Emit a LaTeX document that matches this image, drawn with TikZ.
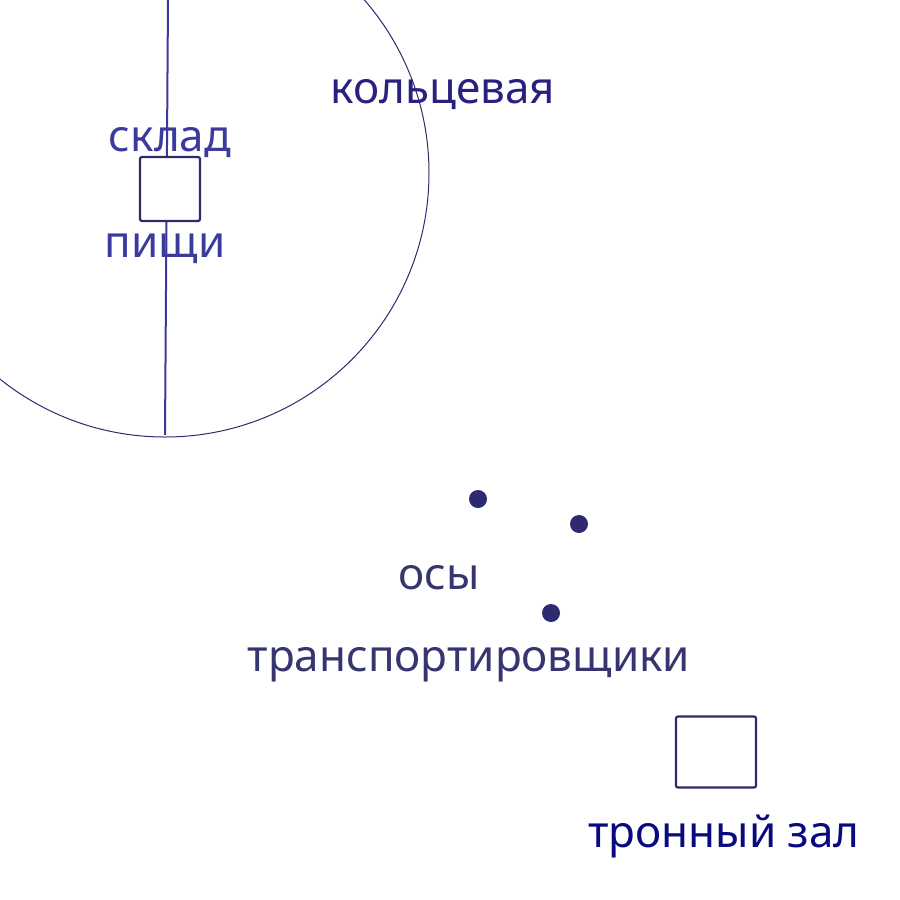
\documentclass[tikz,border=0pt]{standalone}
\usepackage{fontspec}
\setmainfont{Noto Sans}
\definecolor{lbl1}{HTML}{3B3B9E}
\definecolor{lbl2}{HTML}{2A2080}
\definecolor{lbl3}{HTML}{35356F}
\definecolor{lbl4}{HTML}{0A0A80}
\definecolor{ink}{HTML}{2E2A6E}
\definecolor{vline}{HTML}{3A3A9A}
\tikzset{
  lbl/.style={anchor=base, inner sep=0pt, font=\fontsize{44}{48}\selectfont},
  box/.style={draw=ink, line width=2.2pt, fill=white, rounded corners=2pt},
  dot/.style={circle, fill=ink, inner sep=0pt, minimum size=18pt}
}
\begin{document}
\begin{tikzpicture}[x=1pt,y=-1pt]
\useasboundingbox (0,0) rectangle (900,900);
\begin{scope}
\clip (0,0) rectangle (900,900);
\draw[ink, line width=1pt] (165,173) circle (264);
\end{scope}
\coordinate (vtop) at (168,0);
\coordinate (vbot) at (165,435);
\draw[vline, line width=2pt] (vtop) -- (vbot);
\node[box, minimum width=60pt, minimum height=64pt] (store) at (170,189) {};
\node[box, minimum width=80pt, minimum height=71pt] (throne) at (716,752) {};
\node[lbl, text=lbl1] (sklad) at (170,151) {склад};
\node[lbl, text=lbl1] (pishchi) at (165,257) {пищи};
\node[lbl, text=lbl2] (ring) at (443,103) {кольцевая};
\node[lbl, text=lbl3] (wasps) at (439,589) {осы};
\node[lbl, text=lbl3] (carriers) at (469,671) {транспортировщики};
\node[lbl, text=lbl4] (hall) at (724,847) {тронный зал};
\node[dot] (d1) at (478,499) {};
\node[dot] (d2) at (579,524) {};
\node[dot] (d3) at (551,613) {};
\end{tikzpicture}
\end{document}
